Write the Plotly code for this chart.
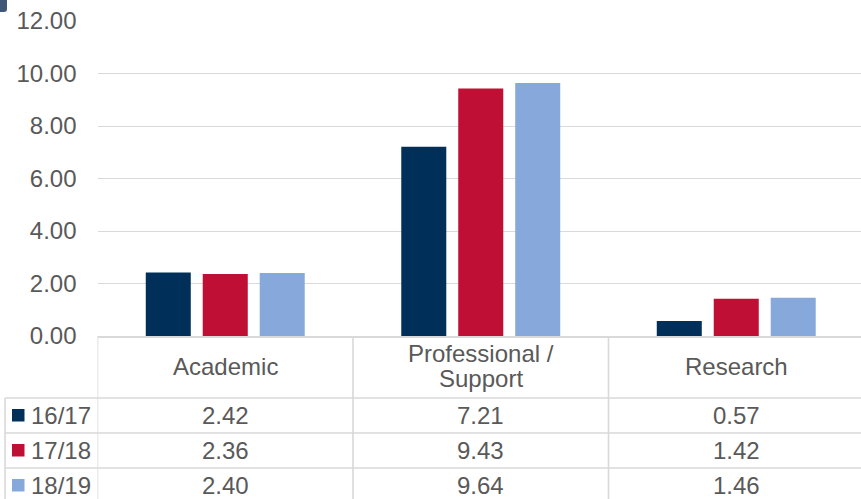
import plotly.graph_objects as go

# Staff categories and yearly values
categories = ["Academic", "Professional /<br>Support", "Research"]
years = ["16/17", "17/18", "18/19"]
values_1617 = [2.42, 7.21, 0.57]
values_1718 = [2.36, 9.43, 1.42]
values_1819 = [2.40, 9.64, 1.46]
series_values = [values_1617, values_1718, values_1819]
colors = ["#003059", "#C00F34", "#86A8DB"]
y_ticks = [0, 2, 4, 6, 8, 10, 12]

W, H = 861, 499
TEXT = "#595959"
GRID = "#D9D9D9"
FONT = "Liberation Sans, Arial, sans-serif"
FS = 24


def px(x):
    return x / W


def py(y):
    return 1 - y / H


fig = go.Figure()
for name, vals, col in zip(years, series_values, colors):
    fig.add_trace(go.Bar(
        x=list(range(len(categories))), y=vals, name=name,
        marker=dict(color=col, line=dict(width=0)),
        hoverinfo="x+y",
    ))

n = len(categories)
plot_left = 97.5
cat_w = 255.5
x_right = -0.5 + (W - plot_left) / cat_w

shapes = []
annotations = []

# Data table grid lines
row_lines = [398, 433, 468]
for ry in row_lines:
    shapes.append(dict(type="line", xref="paper", yref="paper",
                       x0=px(5), x1=1, y0=py(ry), y1=py(ry),
                       line=dict(color=GRID, width=1.6)))
for b in [i - 0.5 for i in range(n + 1)]:
    shapes.append(dict(type="line", xref="x", yref="paper",
                       x0=b, x1=b, y0=py(336), y1=0,
                       line=dict(color=GRID, width=1.6)))
shapes.append(dict(type="line", xref="paper", yref="paper",
                   x0=px(5), x1=px(5), y0=py(398), y1=0,
                   line=dict(color=GRID, width=1.6)))

# Category headers (multi-line labels stacked with a tight line pitch)
header_mid = 366
line_pitch = 25
for i, c in enumerate(categories):
    lines = c.split("<br>")
    top = header_mid - line_pitch * (len(lines) - 1) / 2
    for k, ln in enumerate(lines):
        annotations.append(dict(xref="x", yref="paper", x=i,
                                y=py(top + k * line_pitch),
                                text=ln, showarrow=False, xanchor="center",
                                yanchor="middle",
                                font=dict(family=FONT, size=FS, color=TEXT)))

# Series rows: legend keys, labels and values
row_centers = [415.5, 450.5, 485.5]
for name, vals, col, rc in zip(years, series_values, colors, row_centers):
    shapes.append(dict(type="rect", xref="paper", yref="paper",
                       x0=px(12), x1=px(24.5), y0=py(rc - 6.5), y1=py(rc + 6),
                       fillcolor=col, line=dict(width=0)))
    annotations.append(dict(xref="paper", yref="paper", x=px(29), y=py(rc),
                            text=name, showarrow=False, xanchor="left",
                            yanchor="middle",
                            font=dict(family=FONT, size=FS, color=TEXT)))
    for i, v in enumerate(vals):
        annotations.append(dict(xref="x", yref="paper", x=i, y=py(rc),
                                text=f"{v:.2f}", showarrow=False,
                                xanchor="center", yanchor="middle",
                                font=dict(family=FONT, size=FS, color=TEXT)))

# Corner ornament
shapes.append(dict(type="path", xref="paper", yref="paper",
                   path=f"M 0 {py(0)} L {px(7)} {py(0)} L {px(7)} {py(9)} "
                        f"Q {px(7)} {py(12)} {px(4)} {py(12)} L 0 {py(12)} Z",
                   fillcolor="#1F3A5F", opacity=0.85, line=dict(width=0)))

fig.update_layout(
    template="none",
    width=W, height=H,
    margin=dict(l=0, r=0, t=0, b=0, pad=0, autoexpand=False),
    paper_bgcolor="white", plot_bgcolor="white",
    barmode="group", bargap=0.331, bargroupgap=0.21,
    showlegend=False,
    font=dict(family=FONT, color=TEXT, size=FS),
    xaxis=dict(domain=[px(plot_left), 1], range=[-0.5, x_right],
               showticklabels=False, showgrid=False, zeroline=False,
               showline=True, linecolor=GRID, linewidth=1.6, ticks="",
               automargin=False, fixedrange=True),
    yaxis=dict(domain=[py(336), py(21)], range=[0, 12],
               tickvals=y_ticks, tickformat=".2f",
               showgrid=True, gridcolor=GRID, gridwidth=1.4,
               zeroline=False, showline=False, ticks="",
               ticklabelstandoff=20, automargin=False,
               tickfont=dict(family=FONT, size=FS, color=TEXT),
               fixedrange=True),
    shapes=shapes,
    annotations=annotations,
)

fig.write_html("out.html")
